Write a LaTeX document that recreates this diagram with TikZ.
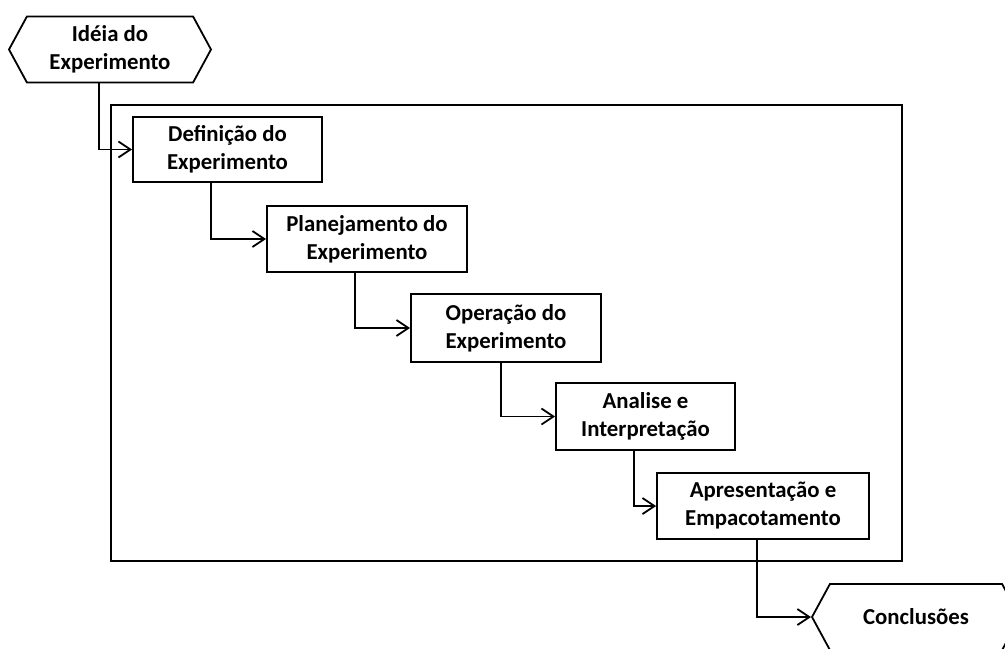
\documentclass[tikz,border=0pt]{standalone}
\usepackage{fontspec}
\setmainfont{Carlito}
\usetikzlibrary{arrows.meta,shapes.symbols}

\begin{document}
\begin{tikzpicture}[x=0.5pt,y=-0.5pt,line width=0.9pt,
 font=\bfseries\fontsize{11.4}{14}\selectfont,
 stage/.style={draw,align=center,inner sep=0pt},
 term/.style={draw,signal,signal to=west and east,signal pointer angle=123,
   align=center,inner sep=0pt,minimum width=101pt,minimum height=33pt},
 flow/.style={-{Straight Barb[length=6pt,width=8pt]},line width=0.9pt}]
\useasboundingbox (0,0) rectangle (1005,648);
\begin{scope}
\clip (0,0) rectangle (1005,648);
\node[term] (idea) at (110,49.5) {Idéia do\\Experimento};
\draw (111,105) rectangle (902,561);
\node[stage,minimum width=94.5pt,minimum height=32.5pt] (def) at (227.5,149.5) {Definição do\\Experimento};
\node[stage,minimum width=100pt,minimum height=33pt] (plan) at (367,239) {Planejamento do\\Experimento};
\node[stage,minimum width=95pt,minimum height=34pt] (oper) at (506,328) {Operação do\\Experimento};
\node[stage,minimum width=89.5pt,minimum height=33.5pt] (anal) at (645.5,416.5) {Analise e\\Interpretação};
\node[stage,minimum width=106pt,minimum height=33pt] (apres) at (763,506) {Apresentação e\\Empacotamento};
\node[term,minimum width=104pt] (concl) at (916,617) {Conclusões};
% ligacoes entre as etapas
\draw[flow] ([xshift=-5.5pt]idea.south) |- (def.west);
\draw[flow] ([xshift=-8.25pt]def.south) |- (plan.west);
\draw[flow] ([xshift=-6pt]plan.south) |- (oper.west);
\draw[flow] ([xshift=-2.5pt]oper.south) |- (anal.west);
\draw[flow] ([xshift=-5.75pt]anal.south) |- (apres.west);
\draw[flow] ([xshift=-3pt]apres.south) |- (concl.west);
\end{scope}
\end{tikzpicture}
\end{document}
